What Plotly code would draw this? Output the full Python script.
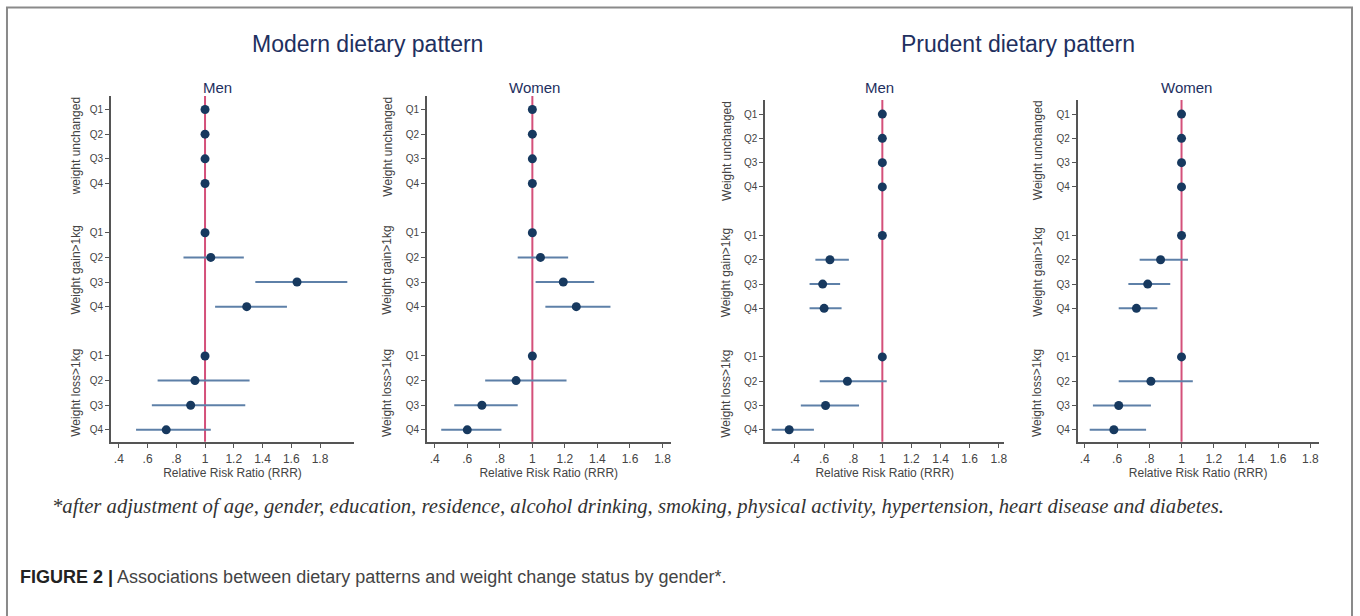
import plotly.graph_objects as go

W, H = 1360, 616

# ---------------- data ----------------
row_labels = ["Q1", "Q2", "Q3", "Q4", "Q1", "Q2", "Q3", "Q4", "Q1", "Q2", "Q3", "Q4"]
row_pos = [1, 2, 3, 4, 6, 7, 8, 9, 11, 12, 13, 14]
x_tickvals = [0.4, 0.6, 0.8, 1.0, 1.2, 1.4, 1.6, 1.8]
x_ticktext = [".4", ".6", ".8", "1", "1.2", "1.4", "1.6", "1.8"]

modern_men_rrr = [1, 1, 1, 1, 1, 1.04, 1.64, 1.29, 1, 0.93, 0.90, 0.73]
modern_men_lo = [1, 1, 1, 1, 1, 0.85, 1.35, 1.07, 1, 0.67, 0.63, 0.52]
modern_men_hi = [1, 1, 1, 1, 1, 1.27, 1.99, 1.57, 1, 1.31, 1.28, 1.04]

modern_women_rrr = [1, 1, 1, 1, 1, 1.05, 1.19, 1.27, 1, 0.90, 0.69, 0.60]
modern_women_lo = [1, 1, 1, 1, 1, 0.91, 1.02, 1.08, 1, 0.71, 0.52, 0.44]
modern_women_hi = [1, 1, 1, 1, 1, 1.22, 1.38, 1.48, 1, 1.21, 0.91, 0.81]

prudent_men_rrr = [1, 1, 1, 1, 1, 0.64, 0.59, 0.60, 1, 0.76, 0.61, 0.36]
prudent_men_lo = [1, 1, 1, 1, 1, 0.54, 0.50, 0.50, 1, 0.57, 0.44, 0.24]
prudent_men_hi = [1, 1, 1, 1, 1, 0.77, 0.71, 0.72, 1, 1.03, 0.84, 0.53]

prudent_women_rrr = [1, 1, 1, 1, 1, 0.87, 0.79, 0.72, 1, 0.81, 0.61, 0.58]
prudent_women_lo = [1, 1, 1, 1, 1, 0.74, 0.67, 0.61, 1, 0.61, 0.45, 0.43]
prudent_women_hi = [1, 1, 1, 1, 1, 1.04, 0.93, 0.85, 1, 1.07, 0.81, 0.78]

group_labels_first = ["weight unchanged", "Weight gain>1kg", "Weight loss>1kg"]
group_labels_other = ["Weight unchanged", "Weight gain>1kg", "Weight loss>1kg"]
group_centers = [2.5, 7.5, 12.5]

pattern_titles = ["Modern dietary pattern", "Prudent dietary pattern"]
sex_titles = ["Men", "Women", "Men", "Women"]
caption_note = ("*after adjustment of age, gender, education, residence, alcohol drinking, smoking, "
                "physical activity, hypertension, heart disease and diabetes.")
caption_bold = "FIGURE 2 |"
caption_text = " Associations between dietary patterns and weight change status by gender*."


def fx(px):
    return px / W


def fy(py):
    return 1 - py / H


# ---------------- layout geometry (screen pixels) ----------------
panels = [
    dict(rrr=modern_men_rrr, lo=modern_men_lo, hi=modern_men_hi,
         px=(111, 355), py=(96, 441.7), xr=[0.344, 2.038], yr=[14.48, 0.45],
         glx=76, groups=group_labels_first, title_x=218),
    dict(rrr=modern_women_rrr, lo=modern_women_lo, hi=modern_women_hi,
         px=(427.7, 672.3), py=(96, 441.7), xr=[0.351, 1.851], yr=[14.48, 0.45],
         glx=388, groups=group_labels_other, title_x=536),
    dict(rrr=prudent_men_rrr, lo=prudent_men_lo, hi=prudent_men_hi,
         px=(766.7, 1006.7), py=(100, 441.7), xr=[0.194, 1.839], yr=[14.49, 0.42],
         glx=728, groups=group_labels_other, title_x=881),
    dict(rrr=prudent_women_rrr, lo=prudent_women_lo, hi=prudent_women_hi,
         px=(1080, 1321.7), py=(100, 441.7), xr=[0.355, 1.852], yr=[14.49, 0.42],
         glx=1040, groups=group_labels_other, title_x=1189),
]

FONT = "Liberation Sans, Arial, sans-serif"
MARK = "#17395f"
CI = "#5e80a8"
REF = "#d4507a"

fig = go.Figure()
annotations = []
shapes = []

for i, p in enumerate(panels):
    n = "" if i == 0 else str(i + 1)
    xa, ya = "x" + n, "y" + n
    err_plus = [h - r for h, r in zip(p["hi"], p["rrr"])]
    err_minus = [r - l for r, l in zip(p["rrr"], p["lo"])]
    fig.add_trace(go.Scatter(
        x=p["rrr"], y=row_pos, mode="markers",
        marker=dict(color=MARK, size=9),
        error_x=dict(type="data", array=err_plus, arrayminus=err_minus,
                     color=CI, thickness=2, width=0),
        xaxis=xa, yaxis=ya, showlegend=False, hoverinfo="skip"))
    # reference line at RRR = 1
    shapes.append(dict(type="line", xref=xa, yref=ya + " domain",
                       x0=1, x1=1, y0=0, y1=1, line=dict(color=REF, width=2),
                       layer="below"))
    dom_x = [fx(p["px"][0]), fx(p["px"][1])]
    dom_y = [fy(p["py"][1]), fy(p["py"][0])]
    fig.layout["xaxis" + n] = dict(
        domain=dom_x, range=p["xr"], anchor=ya, showgrid=False, zeroline=False,
        showline=True, linecolor="#555555", linewidth=1.5,
        ticks="outside", ticklen=5, tickcolor="#555555", tickwidth=1,
        tickvals=x_tickvals, ticktext=x_ticktext,
        tickfont=dict(family=FONT, size=12, color="#444444"),
        title=dict(text="Relative Risk Ratio (RRR)", standoff=2,
                   font=dict(family=FONT, size=12, color="#444444")))
    fig.layout["yaxis" + n] = dict(
        domain=dom_y, range=p["yr"], anchor=xa, showgrid=False, zeroline=False,
        showline=True, linecolor="#555555", linewidth=1.5,
        ticks="outside", ticklen=4, tickcolor="#555555", tickwidth=1,
        tickvals=row_pos, ticktext=row_labels,
        tickfont=dict(family=FONT, size=10, color="#444444"))
    for g, c in zip(p["groups"], group_centers):
        annotations.append(dict(text=g, x=fx(p["glx"]), xref="paper", y=c, yref=ya,
                                textangle=-90, showarrow=False, xanchor="center",
                                yanchor="middle",
                                font=dict(family=FONT, size=12, color="#444444")))
    annotations.append(dict(text=sex_titles[i], x=fx(p["title_x"]), xref="paper",
                            y=fy(87), yref="paper", showarrow=False,
                            xanchor="center", yanchor="middle",
                            font=dict(family=FONT, size=15, color="#1e3060")))

for t, cx in zip(pattern_titles, [368, 1020]):
    annotations.append(dict(text=t, x=fx(cx), xref="paper", y=fy(44), yref="paper",
                            showarrow=False, xanchor="center", yanchor="middle",
                            font=dict(family=FONT, size=23, color="#1e3060")))

annotations.append(dict(text="<i>" + caption_note + "</i>", x=fx(50), xref="paper",
                        y=fy(506), yref="paper", showarrow=False,
                        xanchor="left", yanchor="middle",
                        font=dict(family="Liberation Serif, Times New Roman, serif",
                                  size=20.7, color="#333333")))
annotations.append(dict(text="<b><span style='color:#222222'>" + caption_bold + "</span></b>"
                        + caption_text,
                        x=fx(18), xref="paper", y=fy(577), yref="paper",
                        showarrow=False, xanchor="left", yanchor="middle",
                        font=dict(family=FONT, size=18, color="#444444")))

# outer frame
shapes.append(dict(type="rect", xref="paper", yref="paper",
                   x0=fx(7), x1=fx(1355), y0=-0.05, y1=fy(7.5),
                   line=dict(color="#8a8a8a", width=2)))

fig.update_layout(
    width=W, height=H, margin=dict(l=0, r=0, t=0, b=0),
    paper_bgcolor="white", plot_bgcolor="white",
    annotations=annotations, shapes=shapes, showlegend=False)

fig.write_html("out.html", config={"displayModeBar": False},
               post_script="document.body.style.margin='0';document.body.style.overflow='hidden';")
